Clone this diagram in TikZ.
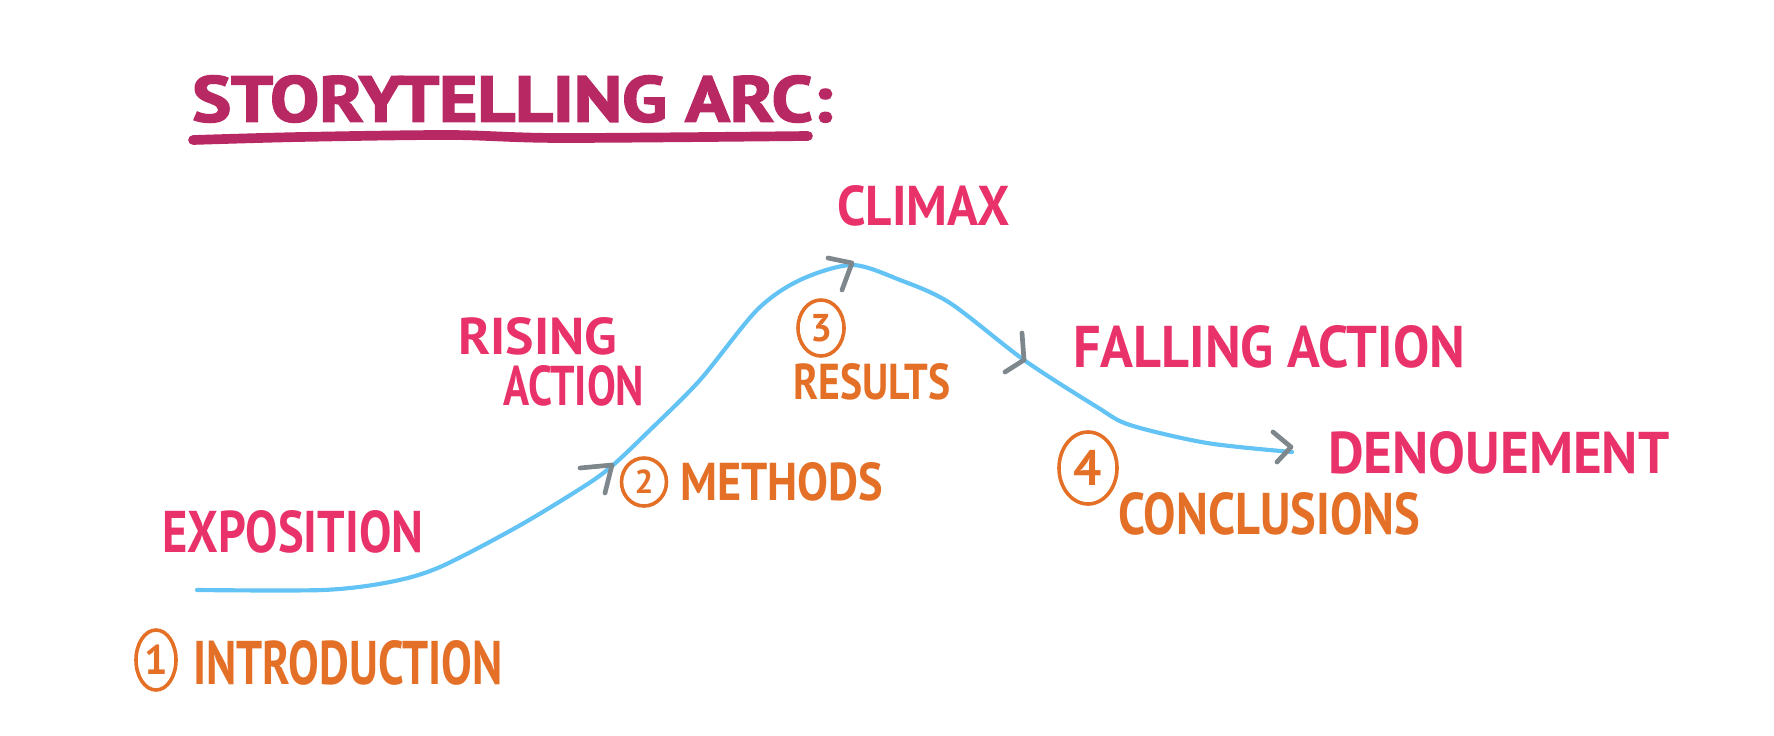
\documentclass[tikz,border=0pt]{standalone}
\usepackage{fontspec}
\usepackage{graphicx}
\setmainfont{PT Sans}
\newfontfamily\handfont{PT Sans}
\newfontfamily\headfont[FakeBold=2.5]{PT Sans}
\usetikzlibrary{arrows.meta,shapes.geometric}
\definecolor{headpink}{HTML}{B82862}
\definecolor{stagepink}{HTML}{E83269}
\definecolor{partorange}{HTML}{E47028}
\definecolor{storyblue}{HTML}{64C3F5}
\definecolor{tickgray}{HTML}{7D878C}
\newcommand{\hw}[3]{\resizebox{#1in}{#2in}{#3}}
\tikzset{
  headlbl/.style={text=headpink, font=\headfont\bfseries, inner sep=0pt, anchor=west},
  stagelbl/.style={text=stagepink, font=\handfont\bfseries, inner sep=0pt, anchor=west},
  partlbl/.style={text=partorange, font=\handfont\bfseries, inner sep=0pt, anchor=west},
  numring/.style={draw=partorange, line width=2.6pt, ellipse, inner sep=0pt, text=partorange},
  headline/.style={draw=headpink, line width=7pt, line cap=round},
  storyline/.style={draw=storyblue, line width=3pt, line cap=round, line join=round},
  tickhead/.style={draw=tickgray, line width=3.4pt, line cap=round, line join=round}
}

\begin{document}
\begin{tikzpicture}[x=1in,y=-1in]
\useasboundingbox (0,0) rectangle (17.74,7.36);
\node[headlbl] (title) at (1.92,0.99) {\hw{6.40}{0.46}{STORYTELLING ARC:}};
\draw[headline] plot[smooth] coordinates {(1.93,1.40) (3.00,1.37) (4.50,1.35) (5.60,1.38) (8.08,1.36)};
\draw[storyline] plot[smooth, tension=0.5] coordinates {(1.97,5.90) (3.23,5.90) (3.90,5.82) (4.40,5.67) (5.17,5.27) (5.83,4.87) (6.12,4.66) (6.50,4.30) (7.00,3.80) (7.57,3.10) (8.00,2.80) (8.52,2.65) (9.00,2.80) (9.50,3.03) (10.24,3.60) (10.97,4.07) (11.30,4.25) (12.07,4.43) (12.92,4.52)};
\draw[tickhead] (5.80,4.68) -- (6.12,4.65) -- (6.05,4.93);
\draw[tickhead] (8.28,2.58) -- (8.52,2.63) -- (8.42,2.90);
\draw[tickhead] (10.22,3.33) -- (10.24,3.60) -- (10.05,3.72);
\draw[tickhead] (12.73,4.32) -- (12.91,4.47) -- (12.77,4.62);
\node[stagelbl] (climax) at (8.37,2.06) {\hw{1.72}{0.40}{CLIMAX}};
\node[stagelbl] (rising) at (4.58,3.36) {\hw{1.59}{0.37}{RISING}};
\node[stagelbl] (risingb) at (5.03,3.86) {\hw{1.41}{0.40}{ACTION}};
\node[stagelbl] (falling) at (10.73,3.47) {\hw{3.92}{0.42}{FALLING ACTION}};
\node[stagelbl] (denoue) at (13.28,4.53) {\hw{3.41}{0.42}{DENOUEMENT}};
\node[stagelbl] (expo) at (1.62,5.32) {\hw{2.61}{0.42}{EXPOSITION}};
\node[numring, minimum width=0.40in, minimum height=0.60in, font=\handfont\bfseries\fontsize{30}{30}\selectfont] (n1) at (1.56,6.60) {1};
\node[partlbl] (intro) at (1.93,6.63) {\hw{3.09}{0.44}{INTRODUCTION}};
\node[numring, minimum width=0.45in, minimum height=0.48in, font=\handfont\bfseries\fontsize{24}{24}\selectfont] (n2) at (6.44,4.82) {2};
\node[partlbl] (methods) at (6.80,4.82) {\hw{2.03}{0.38}{METHODS}};
\node[numring, minimum width=0.46in, minimum height=0.56in, font=\handfont\bfseries\fontsize{28}{28}\selectfont] (n3) at (8.21,3.28) {3};
\node[partlbl] (results) at (7.93,3.82) {\hw{1.57}{0.36}{RESULTS}};
\node[numring, minimum width=0.58in, minimum height=0.72in, font=\handfont\bfseries\fontsize{36}{36}\selectfont] (n4) at (10.88,4.68) {4};
\node[partlbl] (concl) at (11.18,5.14) {\hw{3.02}{0.42}{CONCLUSIONS}};
\end{tikzpicture}
\end{document}
